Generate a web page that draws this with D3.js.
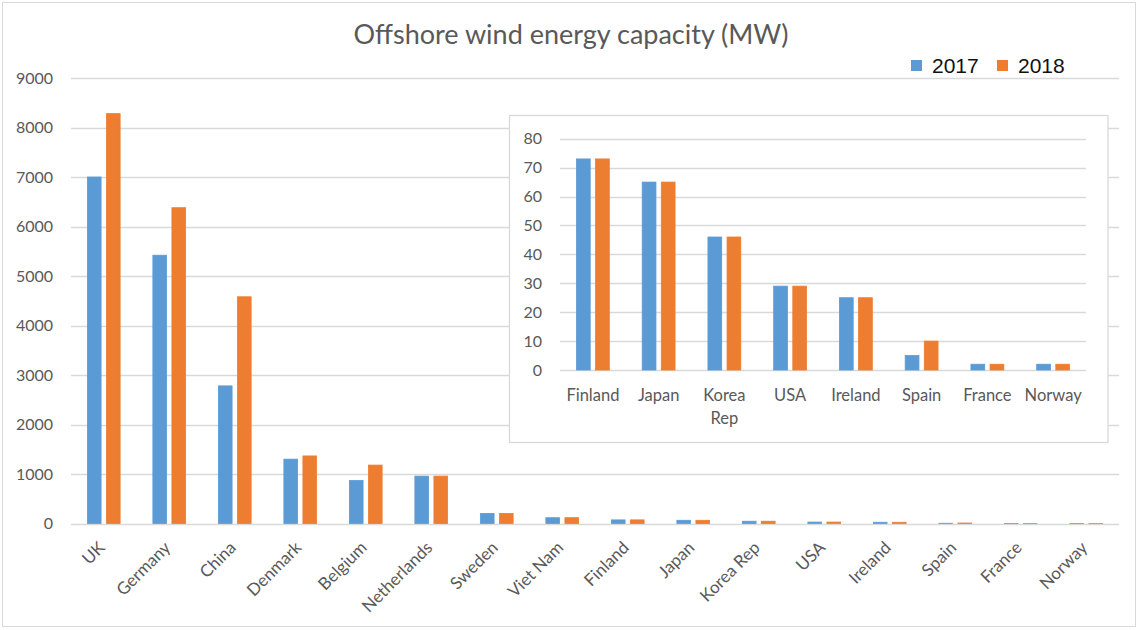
<!DOCTYPE html>
<html>
<head>
<meta charset="utf-8">
<script src="https://cdn.jsdelivr.net/npm/d3@7"></script>
<style>
  html, body { margin: 0; padding: 0; background: #fff; }
  svg { display: block; }
</style>
</head>
<body>
<svg id="chart" width="1141" height="630"></svg>
<script>
const categories = ["UK","Germany","China","Denmark","Belgium","Netherlands","Sweden","Viet Nam","Finland","Japan","Korea Rep","USA","Ireland","Spain","France","Norway"];
const series = ["2017", "2018"];
const values2017 = [7000, 5420, 2780, 1300, 870, 957, 203, 117, 73, 65, 46, 29, 25, 5, 2, 2];
const values2018 = [8280, 6380, 4580, 1365, 1180, 957, 203, 117, 73, 65, 46, 29, 25, 10, 2, 2];
const mainTicks = [0, 1000, 2000, 3000, 4000, 5000, 6000, 7000, 8000, 9000];
const insetCategories = categories.slice(8);
const insetTicks = [0, 10, 20, 30, 40, 50, 60, 70, 80];
const titleText = "Offshore wind energy capacity (MW)";

const colors = { "2017": "#5b9bd5", "2018": "#ed7d31" };
const grid = "#d9d9d9";
const txt = "#595959";
const font = "Lato, 'Open Sans', sans-serif";

const svg = d3.select("#chart");
const rows = categories.map((c, i) => ({ cat: c, "2017": values2017[i], "2018": values2018[i] }));

// outer border
svg.append("rect").attr("x", 2.5).attr("y", 2.5).attr("width", 1133).attr("height", 624)
  .attr("fill", "#fff").attr("stroke", grid);

// title
svg.append("text").attr("x", 571).attr("y", 44).attr("text-anchor", "middle")
  .attr("font-family", font).attr("font-size", 27).attr("fill", txt).text(titleText);

// legend
const leg = svg.append("g");
[["2017", 911, 932], ["2018", 997, 1018]].forEach(([s, rx, tx]) => {
  leg.append("rect").attr("x", rx).attr("y", 60).attr("width", 11).attr("height", 11).attr("fill", colors[s]);
  leg.append("text").attr("x", tx).attr("y", 73).attr("font-family", "'Liberation Sans', Arial, sans-serif")
    .attr("font-size", 21).attr("fill", "#111").text(s);
});

// ---- main chart
const x0 = d3.scaleBand().domain(categories).range([71, 1119]).padding(0);
const bw = x0.bandwidth();
const x1 = d3.scaleBand().domain(series).range([bw * 0.25, bw * 0.75]).paddingInner(0.28);
const y = d3.scaleLinear().domain([0, 9000]).range([523.5, 78]);

const gGrid = svg.append("g");
gGrid.selectAll("line").data(mainTicks).join("line")
  .attr("x1", 71).attr("x2", 1119)
  .attr("y1", d => Math.round(y(d)) + 0.5).attr("y2", d => Math.round(y(d)) + 0.5)
  .attr("stroke", grid).attr("stroke-width", 1.3);

const yAxis = d3.axisLeft(y).tickValues(mainTicks).tickSize(0).tickPadding(0).tickFormat(d3.format("d"));
svg.append("g").attr("transform", "translate(53,0)").call(yAxis)
  .call(g => g.select(".domain").remove())
  .call(g => g.selectAll("text").attr("font-family", font).attr("font-size", 16).attr("fill", txt));

const groups = svg.append("g").selectAll("g").data(rows).join("g")
  .attr("transform", d => `translate(${x0(d.cat)},0)`);
groups.selectAll("rect").data(d => series.map(s => ({ s, v: d[s] }))).join("rect")
  .attr("x", d => x1(d.s)).attr("width", x1.bandwidth())
  .attr("y", d => y(d.v)).attr("height", d => y(0) - y(d.v))
  .attr("fill", d => colors[d.s]).attr("stroke", d => colors[d.s]).attr("stroke-width", 0.8);

const xAxis = d3.axisBottom(x0).tickSize(0).tickPadding(0);
svg.append("g").attr("transform", "translate(0,523.5)").call(xAxis)
  .call(g => g.select(".domain").remove())
  .call(g => g.selectAll("text")
    .attr("font-family", font).attr("font-size", 17).attr("fill", txt)
    .attr("text-anchor", "end").attr("dy", "0.35em")
    .attr("transform", "translate(-2,21) rotate(-45)"));

// ---- inset chart
const inset = svg.append("g");
inset.append("rect").attr("x", 509.5).attr("y", 115.5).attr("width", 598.5).attr("height", 327)
  .attr("fill", "#fff").attr("stroke", grid).attr("stroke-width", 1.3);

const ix0 = d3.scaleBand().domain(insetCategories).range([560, 1086]).padding(0);
const ibw = ix0.bandwidth();
const ix1 = d3.scaleBand().domain(series).range([ibw * 0.25, ibw * 0.75]).paddingInner(0.28);
const iy = d3.scaleLinear().domain([0, 80]).range([370, 138.7]);

inset.append("g").selectAll("line").data(insetTicks).join("line")
  .attr("x1", 560).attr("x2", 1086)
  .attr("y1", d => Math.round(iy(d)) + 0.5).attr("y2", d => Math.round(iy(d)) + 0.5)
  .attr("stroke", grid).attr("stroke-width", 1.3);

inset.append("g").attr("transform", "translate(542,0)")
  .call(d3.axisLeft(iy).tickValues(insetTicks).tickSize(0).tickPadding(0))
  .call(g => g.select(".domain").remove())
  .call(g => g.selectAll("text").attr("font-family", font).attr("font-size", 16).attr("fill", txt));

const insetRows = rows.filter(r => insetCategories.includes(r.cat));
inset.append("g").selectAll("g").data(insetRows).join("g")
  .attr("transform", d => `translate(${ix0(d.cat)},0)`)
  .selectAll("rect").data(d => series.map(s => ({ s, v: d[s] }))).join("rect")
  .attr("x", d => ix1(d.s)).attr("width", ix1.bandwidth())
  .attr("y", d => iy(d.v)).attr("height", d => iy(0) - iy(d.v))
  .attr("fill", d => colors[d.s]).attr("stroke", d => colors[d.s]).attr("stroke-width", 0.8);

const ixAxis = inset.append("g").attr("transform", "translate(0,370)")
  .call(d3.axisBottom(ix0).tickSize(0).tickPadding(0));
ixAxis.select(".domain").remove();
ixAxis.selectAll("text").attr("font-family", font).attr("font-size", 16.5).attr("fill", txt)
  .attr("y", 0).attr("dy", null)
  .each(function(d) {
    const t = d3.select(this);
    const words = d.split(" ");
    t.text(d);
    const full = this.getComputedTextLength();
    t.text(null);
    if (full > ibw - 2 && words.length > 1) {
      words.forEach((wd, i) => {
        t.append("tspan").attr("x", 0).attr("y", 31 + i * 23).text(wd);
      });
    } else {
      t.append("tspan").attr("x", 0).attr("y", 31).text(d);
    }
  });
</script>
</body>
</html>
